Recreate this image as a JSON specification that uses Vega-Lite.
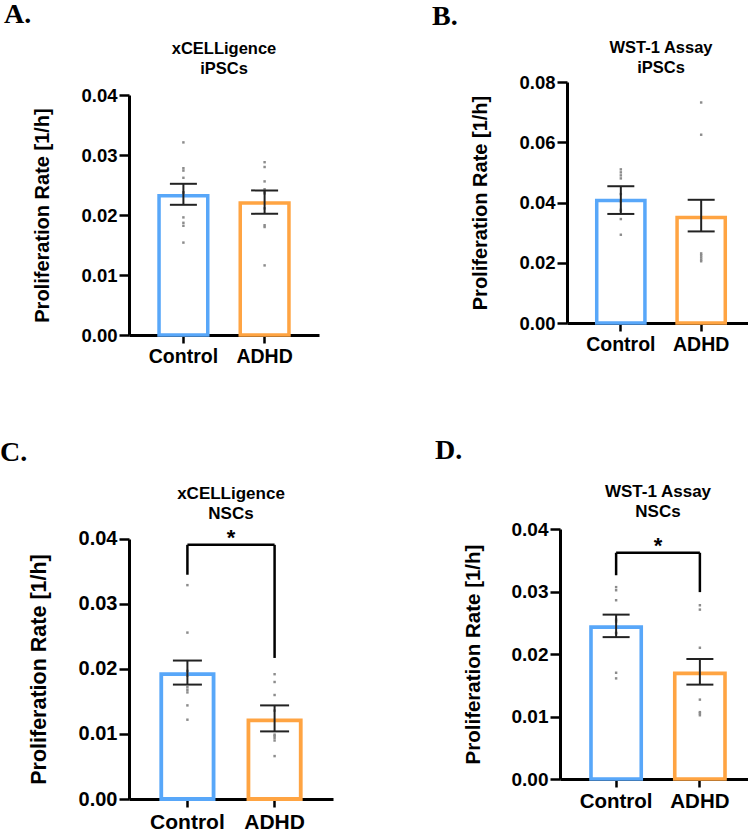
{
  "$schema": "https://vega.github.io/schema/vega-lite/v6.json",
  "background": "white",
  "padding": {"left": 0, "top": 0, "right": 0, "bottom": 0},
  "datasets": {
    "bars": [
      {"panel": "A", "group": "Control", "mean": 0.0232, "lo": 0.0217, "hi": 0.0252},
      {"panel": "A", "group": "ADHD", "mean": 0.0220, "lo": 0.0202, "hi": 0.0241},
      {"panel": "B", "group": "Control", "mean": 0.0407, "lo": 0.0362, "hi": 0.0454},
      {"panel": "B", "group": "ADHD", "mean": 0.0350, "lo": 0.0304, "hi": 0.0409},
      {"panel": "C", "group": "Control", "mean": 0.0192, "lo": 0.0176, "hi": 0.0213},
      {"panel": "C", "group": "ADHD", "mean": 0.0121, "lo": 0.0104, "hi": 0.0144},
      {"panel": "D", "group": "Control", "mean": 0.0243, "lo": 0.0227, "hi": 0.0263},
      {"panel": "D", "group": "ADHD", "mean": 0.0169, "lo": 0.0151, "hi": 0.0192}
    ],
    "pts": [
      {"panel": "A", "group": "Control", "value": 0.0321},
      {"panel": "A", "group": "Control", "value": 0.0278},
      {"panel": "A", "group": "Control", "value": 0.0274},
      {"panel": "A", "group": "Control", "value": 0.0262},
      {"panel": "A", "group": "Control", "value": 0.0238},
      {"panel": "A", "group": "Control", "value": 0.0237},
      {"panel": "A", "group": "Control", "value": 0.0196},
      {"panel": "A", "group": "Control", "value": 0.0187},
      {"panel": "A", "group": "Control", "value": 0.0182},
      {"panel": "A", "group": "Control", "value": 0.0154},
      {"panel": "A", "group": "ADHD", "value": 0.0288},
      {"panel": "A", "group": "ADHD", "value": 0.0280},
      {"panel": "A", "group": "ADHD", "value": 0.0256},
      {"panel": "A", "group": "ADHD", "value": 0.0243},
      {"panel": "A", "group": "ADHD", "value": 0.0238},
      {"panel": "A", "group": "ADHD", "value": 0.0236},
      {"panel": "A", "group": "ADHD", "value": 0.0211},
      {"panel": "A", "group": "ADHD", "value": 0.0183},
      {"panel": "A", "group": "ADHD", "value": 0.0180},
      {"panel": "A", "group": "ADHD", "value": 0.0116},
      {"panel": "B", "group": "Control", "value": 0.0510},
      {"panel": "B", "group": "Control", "value": 0.0500},
      {"panel": "B", "group": "Control", "value": 0.0490},
      {"panel": "B", "group": "Control", "value": 0.0480},
      {"panel": "B", "group": "Control", "value": 0.0428},
      {"panel": "B", "group": "Control", "value": 0.0404},
      {"panel": "B", "group": "Control", "value": 0.0376},
      {"panel": "B", "group": "Control", "value": 0.0372},
      {"panel": "B", "group": "Control", "value": 0.0345},
      {"panel": "B", "group": "Control", "value": 0.0293},
      {"panel": "B", "group": "ADHD", "value": 0.0732},
      {"panel": "B", "group": "ADHD", "value": 0.0625},
      {"panel": "B", "group": "ADHD", "value": 0.0231},
      {"panel": "B", "group": "ADHD", "value": 0.0225},
      {"panel": "B", "group": "ADHD", "value": 0.0218},
      {"panel": "B", "group": "ADHD", "value": 0.0211},
      {"panel": "B", "group": "ADHD", "value": 0.0205},
      {"panel": "C", "group": "Control", "value": 0.0329},
      {"panel": "C", "group": "Control", "value": 0.0256},
      {"panel": "C", "group": "Control", "value": 0.0197},
      {"panel": "C", "group": "Control", "value": 0.0190},
      {"panel": "C", "group": "Control", "value": 0.0172},
      {"panel": "C", "group": "Control", "value": 0.0168},
      {"panel": "C", "group": "Control", "value": 0.0164},
      {"panel": "C", "group": "Control", "value": 0.0144},
      {"panel": "C", "group": "Control", "value": 0.0122},
      {"panel": "C", "group": "ADHD", "value": 0.0192},
      {"panel": "C", "group": "ADHD", "value": 0.0180},
      {"panel": "C", "group": "ADHD", "value": 0.0160},
      {"panel": "C", "group": "ADHD", "value": 0.0136},
      {"panel": "C", "group": "ADHD", "value": 0.0099},
      {"panel": "C", "group": "ADHD", "value": 0.0097},
      {"panel": "C", "group": "ADHD", "value": 0.0094},
      {"panel": "C", "group": "ADHD", "value": 0.0090},
      {"panel": "C", "group": "ADHD", "value": 0.0066},
      {"panel": "D", "group": "Control", "value": 0.0307},
      {"panel": "D", "group": "Control", "value": 0.0302},
      {"panel": "D", "group": "Control", "value": 0.0286},
      {"panel": "D", "group": "Control", "value": 0.0255},
      {"panel": "D", "group": "Control", "value": 0.0252},
      {"panel": "D", "group": "Control", "value": 0.0234},
      {"panel": "D", "group": "Control", "value": 0.0233},
      {"panel": "D", "group": "Control", "value": 0.0170},
      {"panel": "D", "group": "Control", "value": 0.0161},
      {"panel": "D", "group": "ADHD", "value": 0.0278},
      {"panel": "D", "group": "ADHD", "value": 0.0271},
      {"panel": "D", "group": "ADHD", "value": 0.0210},
      {"panel": "D", "group": "ADHD", "value": 0.0127},
      {"panel": "D", "group": "ADHD", "value": 0.0107},
      {"panel": "D", "group": "ADHD", "value": 0.0105},
      {"panel": "D", "group": "ADHD", "value": 0.0102}
    ],
    "legs": [
      {"panel": "C", "group": "Control", "y": 0.0345, "y2": 0.0391},
      {"panel": "C", "group": "ADHD", "y": 0.0217, "y2": 0.0391},
      {"panel": "D", "group": "Control", "y": 0.0326, "y2": 0.0362},
      {"panel": "D", "group": "ADHD", "y": 0.0299, "y2": 0.0362}
    ],
    "spans": [
      {"panel": "C", "from": "Control", "to": "ADHD", "y": 0.0391},
      {"panel": "D", "from": "Control", "to": "ADHD", "y": 0.0362}
    ],
    "stars": [
      {"panel": "C", "pos": 0.5, "y": 0.0391, "label": "*"},
      {"panel": "D", "pos": 0.5, "y": 0.0362, "label": "*"}
    ]
  },
  "spacing": 71,
  "vconcat": [
    {
      "columns": 2,
      "align": "none",
      "spacing": 112,
      "concat": [
        {
          "title": {"text": "A.", "anchor": "start", "frame": "bounds", "font": "Liberation Serif", "fontSize": 28, "fontWeight": "bold", "color": "#000", "dx": -29, "offset": 12},
          "vconcat": [
            {
              "width": 190, "height": 253,
              "title": {"text": ["xCELLigence", "iPSCs"], "fontSize": 16.5, "fontWeight": "bold", "lineHeight": 20, "anchor": "middle", "frame": "group", "offset": 5, "color": "#000"},
              "layer": [
                {"data": {"name": "bars"}, "transform": [{"filter": "datum.panel==='A'"}],
                 "mark": {"type": "bar", "fill": "#fff", "strokeWidth": 3.5},
                 "encoding": {
                   "x": {"field": "group", "type": "nominal", "sort": ["Control", "ADHD"], "scale": {"domain": ["Control", "ADHD"], "paddingInner": 0.4, "paddingOuter": 0.37}, "axis": {"labelFontSize": 19.5}},
                   "y": {"field": "mean", "type": "quantitative", "scale": {"domain": [0, 0.042167], "nice": false}, "axis": {"title": "Proliferation Rate [1/h]", "values": [0, 0.01, 0.02, 0.03, 0.04], "format": ".2f", "labelFontSize": 18.5, "titleFontSize": 20, "domainDash": [240, 30], "titleY": 133}},
                   "stroke": {"field": "group", "type": "nominal", "scale": {"domain": ["Control", "ADHD"], "range": ["#58a7f9", "#ffa442"]}, "legend": null}}},
                {"data": {"name": "pts"}, "transform": [{"filter": "datum.panel==='A'"}],
                 "mark": {"type": "square", "size": 6, "color": "#8c8c8c", "opacity": 1},
                 "encoding": {"x": {"field": "group", "type": "nominal"}, "y": {"field": "value", "type": "quantitative"}}},
                {"data": {"name": "bars"}, "transform": [{"filter": "datum.panel==='A'"}],
                 "mark": {"type": "rule", "color": "#222", "strokeWidth": 2},
                 "encoding": {"x": {"field": "group", "type": "nominal"}, "y": {"field": "lo", "type": "quantitative"}, "y2": {"field": "hi"}}},
                {"data": {"name": "bars"}, "transform": [{"filter": "datum.panel==='A'"}],
                 "mark": {"type": "tick", "color": "#222", "thickness": 2, "size": 27, "opacity": 1},
                 "encoding": {"x": {"field": "group", "type": "nominal"}, "y": {"field": "lo", "type": "quantitative"}}},
                {"data": {"name": "bars"}, "transform": [{"filter": "datum.panel==='A'"}],
                 "mark": {"type": "tick", "color": "#222", "thickness": 2, "size": 27, "opacity": 1},
                 "encoding": {"x": {"field": "group", "type": "nominal"}, "y": {"field": "hi", "type": "quantitative"}}}
              ]
            }
          ]
        },
        {
          "title": {"text": "B.", "anchor": "start", "frame": "bounds", "font": "Liberation Serif", "fontSize": 28, "fontWeight": "bold", "color": "#000", "dx": -39, "offset": 9},
          "vconcat": [
            {
              "width": 188, "height": 241,
              "title": {"text": ["WST-1 Assay", "iPSCs"], "fontSize": 16.5, "fontWeight": "bold", "lineHeight": 20, "anchor": "middle", "frame": "group", "offset": -3, "color": "#000"},
              "layer": [
                {"data": {"name": "bars"}, "transform": [{"filter": "datum.panel==='B'"}],
                 "mark": {"type": "bar", "fill": "#fff", "strokeWidth": 3.5},
                 "encoding": {
                   "x": {"field": "group", "type": "nominal", "sort": ["Control", "ADHD"], "scale": {"domain": ["Control", "ADHD"], "paddingInner": 0.4, "paddingOuter": 0.37}, "axis": {"labelFontSize": 19.5}},
                   "y": {"field": "mean", "type": "quantitative", "scale": {"domain": [0, 0.08], "nice": false}, "axis": {"title": "Proliferation Rate [1/h]", "values": [0, 0.02, 0.04, 0.06, 0.08], "format": ".2f", "labelFontSize": 18.5, "titleFontSize": 20}},
                   "stroke": {"field": "group", "type": "nominal", "scale": {"domain": ["Control", "ADHD"], "range": ["#58a7f9", "#ffa442"]}, "legend": null}}},
                {"data": {"name": "pts"}, "transform": [{"filter": "datum.panel==='B'"}],
                 "mark": {"type": "square", "size": 6, "color": "#8c8c8c", "opacity": 1},
                 "encoding": {"x": {"field": "group", "type": "nominal"}, "y": {"field": "value", "type": "quantitative"}}},
                {"data": {"name": "bars"}, "transform": [{"filter": "datum.panel==='B'"}],
                 "mark": {"type": "rule", "color": "#222", "strokeWidth": 2},
                 "encoding": {"x": {"field": "group", "type": "nominal"}, "y": {"field": "lo", "type": "quantitative"}, "y2": {"field": "hi"}}},
                {"data": {"name": "bars"}, "transform": [{"filter": "datum.panel==='B'"}],
                 "mark": {"type": "tick", "color": "#222", "thickness": 2, "size": 27, "opacity": 1},
                 "encoding": {"x": {"field": "group", "type": "nominal"}, "y": {"field": "lo", "type": "quantitative"}}},
                {"data": {"name": "bars"}, "transform": [{"filter": "datum.panel==='B'"}],
                 "mark": {"type": "tick", "color": "#222", "thickness": 2, "size": 27, "opacity": 1},
                 "encoding": {"x": {"field": "group", "type": "nominal"}, "y": {"field": "hi", "type": "quantitative"}}}
              ]
            }
          ]
        }
      ]
    },
    {
      "columns": 2,
      "align": "none",
      "spacing": 102,
      "concat": [
        {
          "title": {"text": "C.", "anchor": "start", "frame": "bounds", "font": "Liberation Serif", "fontSize": 28, "fontWeight": "bold", "color": "#000", "dx": -28, "offset": 18},
          "vconcat": [
            {
              "width": 204, "height": 270,
              "title": {"text": ["xCELLigence", "NSCs"], "fontSize": 17, "fontWeight": "bold", "lineHeight": 20, "anchor": "middle", "frame": "group", "offset": 4, "color": "#000"},
              "resolve": {"scale": {"x": "independent"}},
              "layer": [
                {
                  "layer": [
                    {"data": {"name": "bars"}, "transform": [{"filter": "datum.panel==='C'"}],
                     "mark": {"type": "bar", "fill": "#fff", "strokeWidth": 3.8},
                     "encoding": {
                       "x": {"field": "group", "type": "nominal", "sort": ["Control", "ADHD"], "scale": {"domain": ["Control", "ADHD"], "paddingInner": 0.4, "paddingOuter": 0.37}, "axis": {"labelFontSize": 21}},
                       "y": {"field": "mean", "type": "quantitative", "scale": {"domain": [0, 0.041537], "nice": false}, "axis": {"title": "Proliferation Rate [1/h]", "values": [0, 0.01, 0.02, 0.03, 0.04], "format": ".2f", "labelFontSize": 20, "titleFontSize": 21.5, "domainDash": [260, 30], "titleY": 140}},
                       "stroke": {"field": "group", "type": "nominal", "scale": {"domain": ["Control", "ADHD"], "range": ["#58a7f9", "#ffa442"]}, "legend": null}}},
                    {"data": {"name": "pts"}, "transform": [{"filter": "datum.panel==='C'"}],
                     "mark": {"type": "square", "size": 6, "color": "#8c8c8c", "opacity": 1},
                     "encoding": {"x": {"field": "group", "type": "nominal"}, "y": {"field": "value", "type": "quantitative"}}},
                    {"data": {"name": "bars"}, "transform": [{"filter": "datum.panel==='C'"}],
                     "mark": {"type": "rule", "color": "#222", "strokeWidth": 2},
                     "encoding": {"x": {"field": "group", "type": "nominal"}, "y": {"field": "lo", "type": "quantitative"}, "y2": {"field": "hi"}}},
                    {"data": {"name": "bars"}, "transform": [{"filter": "datum.panel==='C'"}],
                     "mark": {"type": "tick", "color": "#222", "thickness": 2, "size": 29, "opacity": 1},
                     "encoding": {"x": {"field": "group", "type": "nominal"}, "y": {"field": "lo", "type": "quantitative"}}},
                    {"data": {"name": "bars"}, "transform": [{"filter": "datum.panel==='C'"}],
                     "mark": {"type": "tick", "color": "#222", "thickness": 2, "size": 29, "opacity": 1},
                     "encoding": {"x": {"field": "group", "type": "nominal"}, "y": {"field": "hi", "type": "quantitative"}}},
                    {"data": {"name": "legs"}, "transform": [{"filter": "datum.panel==='C'"}],
                     "mark": {"type": "rule", "color": "#000", "strokeWidth": 2.5},
                     "encoding": {"x": {"field": "group", "type": "nominal"}, "y": {"field": "y", "type": "quantitative"}, "y2": {"field": "y2"}}},
                    {"data": {"name": "spans"}, "transform": [{"filter": "datum.panel==='C'"}],
                     "mark": {"type": "rule", "color": "#000", "strokeWidth": 2.5},
                     "encoding": {"x": {"field": "from", "type": "nominal"}, "x2": {"field": "to"}, "y": {"field": "y", "type": "quantitative"}}}
                  ]
                },
                {"data": {"name": "stars"}, "transform": [{"filter": "datum.panel==='C'"}],
                 "mark": {"type": "text", "fontSize": 22, "fontWeight": "bold", "baseline": "alphabetic", "color": "#000"},
                 "encoding": {"x": {"field": "pos", "type": "quantitative", "scale": {"domain": [0, 1]}, "axis": null}, "y": {"field": "y", "type": "quantitative"}, "text": {"field": "label"}}}
              ]
            }
          ]
        },
        {
          "title": {"text": "D.", "anchor": "start", "frame": "bounds", "font": "Liberation Serif", "fontSize": 28, "fontWeight": "bold", "color": "#000", "dx": -28, "offset": 18},
          "vconcat": [
            {
              "width": 196, "height": 250,
              "title": {"text": ["WST-1 Assay", "NSCs"], "fontSize": 17, "fontWeight": "bold", "lineHeight": 20, "anchor": "middle", "frame": "group", "offset": -1, "color": "#000"},
              "resolve": {"scale": {"x": "independent"}},
              "layer": [
                {
                  "layer": [
                    {"data": {"name": "bars"}, "transform": [{"filter": "datum.panel==='D'"}],
                     "mark": {"type": "bar", "fill": "#fff", "strokeWidth": 3.6},
                     "encoding": {
                       "x": {"field": "group", "type": "nominal", "sort": ["Control", "ADHD"], "scale": {"domain": ["Control", "ADHD"], "paddingInner": 0.4, "paddingOuter": 0.37}, "axis": {"labelFontSize": 20.5}},
                       "y": {"field": "mean", "type": "quantitative", "scale": {"domain": [0, 0.04], "nice": false}, "axis": {"title": "Proliferation Rate [1/h]", "values": [0, 0.01, 0.02, 0.03, 0.04], "format": ".2f", "labelFontSize": 19, "titleFontSize": 20.5}},
                       "stroke": {"field": "group", "type": "nominal", "scale": {"domain": ["Control", "ADHD"], "range": ["#58a7f9", "#ffa442"]}, "legend": null}}},
                    {"data": {"name": "pts"}, "transform": [{"filter": "datum.panel==='D'"}],
                     "mark": {"type": "square", "size": 6, "color": "#8c8c8c", "opacity": 1},
                     "encoding": {"x": {"field": "group", "type": "nominal"}, "y": {"field": "value", "type": "quantitative"}}},
                    {"data": {"name": "bars"}, "transform": [{"filter": "datum.panel==='D'"}],
                     "mark": {"type": "rule", "color": "#222", "strokeWidth": 2},
                     "encoding": {"x": {"field": "group", "type": "nominal"}, "y": {"field": "lo", "type": "quantitative"}, "y2": {"field": "hi"}}},
                    {"data": {"name": "bars"}, "transform": [{"filter": "datum.panel==='D'"}],
                     "mark": {"type": "tick", "color": "#222", "thickness": 2, "size": 27, "opacity": 1},
                     "encoding": {"x": {"field": "group", "type": "nominal"}, "y": {"field": "lo", "type": "quantitative"}}},
                    {"data": {"name": "bars"}, "transform": [{"filter": "datum.panel==='D'"}],
                     "mark": {"type": "tick", "color": "#222", "thickness": 2, "size": 27, "opacity": 1},
                     "encoding": {"x": {"field": "group", "type": "nominal"}, "y": {"field": "hi", "type": "quantitative"}}},
                    {"data": {"name": "legs"}, "transform": [{"filter": "datum.panel==='D'"}],
                     "mark": {"type": "rule", "color": "#000", "strokeWidth": 2.5},
                     "encoding": {"x": {"field": "group", "type": "nominal"}, "y": {"field": "y", "type": "quantitative"}, "y2": {"field": "y2"}}},
                    {"data": {"name": "spans"}, "transform": [{"filter": "datum.panel==='D'"}],
                     "mark": {"type": "rule", "color": "#000", "strokeWidth": 2.5},
                     "encoding": {"x": {"field": "from", "type": "nominal"}, "x2": {"field": "to"}, "y": {"field": "y", "type": "quantitative"}}}
                  ]
                },
                {"data": {"name": "stars"}, "transform": [{"filter": "datum.panel==='D'"}],
                 "mark": {"type": "text", "fontSize": 22, "fontWeight": "bold", "baseline": "alphabetic", "color": "#000"},
                 "encoding": {"x": {"field": "pos", "type": "quantitative", "scale": {"domain": [0, 1]}, "axis": null}, "y": {"field": "y", "type": "quantitative"}, "text": {"field": "label"}}}
              ]
            }
          ]
        }
      ]
    }
  ],
  "config": {
    "font": "Liberation Sans",
    "view": {"stroke": null},
    "axis": {"grid": false, "domainColor": "#000", "domainWidth": 3, "tickColor": "#000", "tickWidth": 2.5, "labelColor": "#000", "labelFontWeight": "bold", "titleColor": "#000", "titleFontWeight": "bold"},
    "axisY": {"tickSize": 10, "labelPadding": 2, "titlePadding": 28},
    "axisX": {"tickSize": 8, "labelAngle": 0, "labelPadding": 4, "title": null}
  }
}
